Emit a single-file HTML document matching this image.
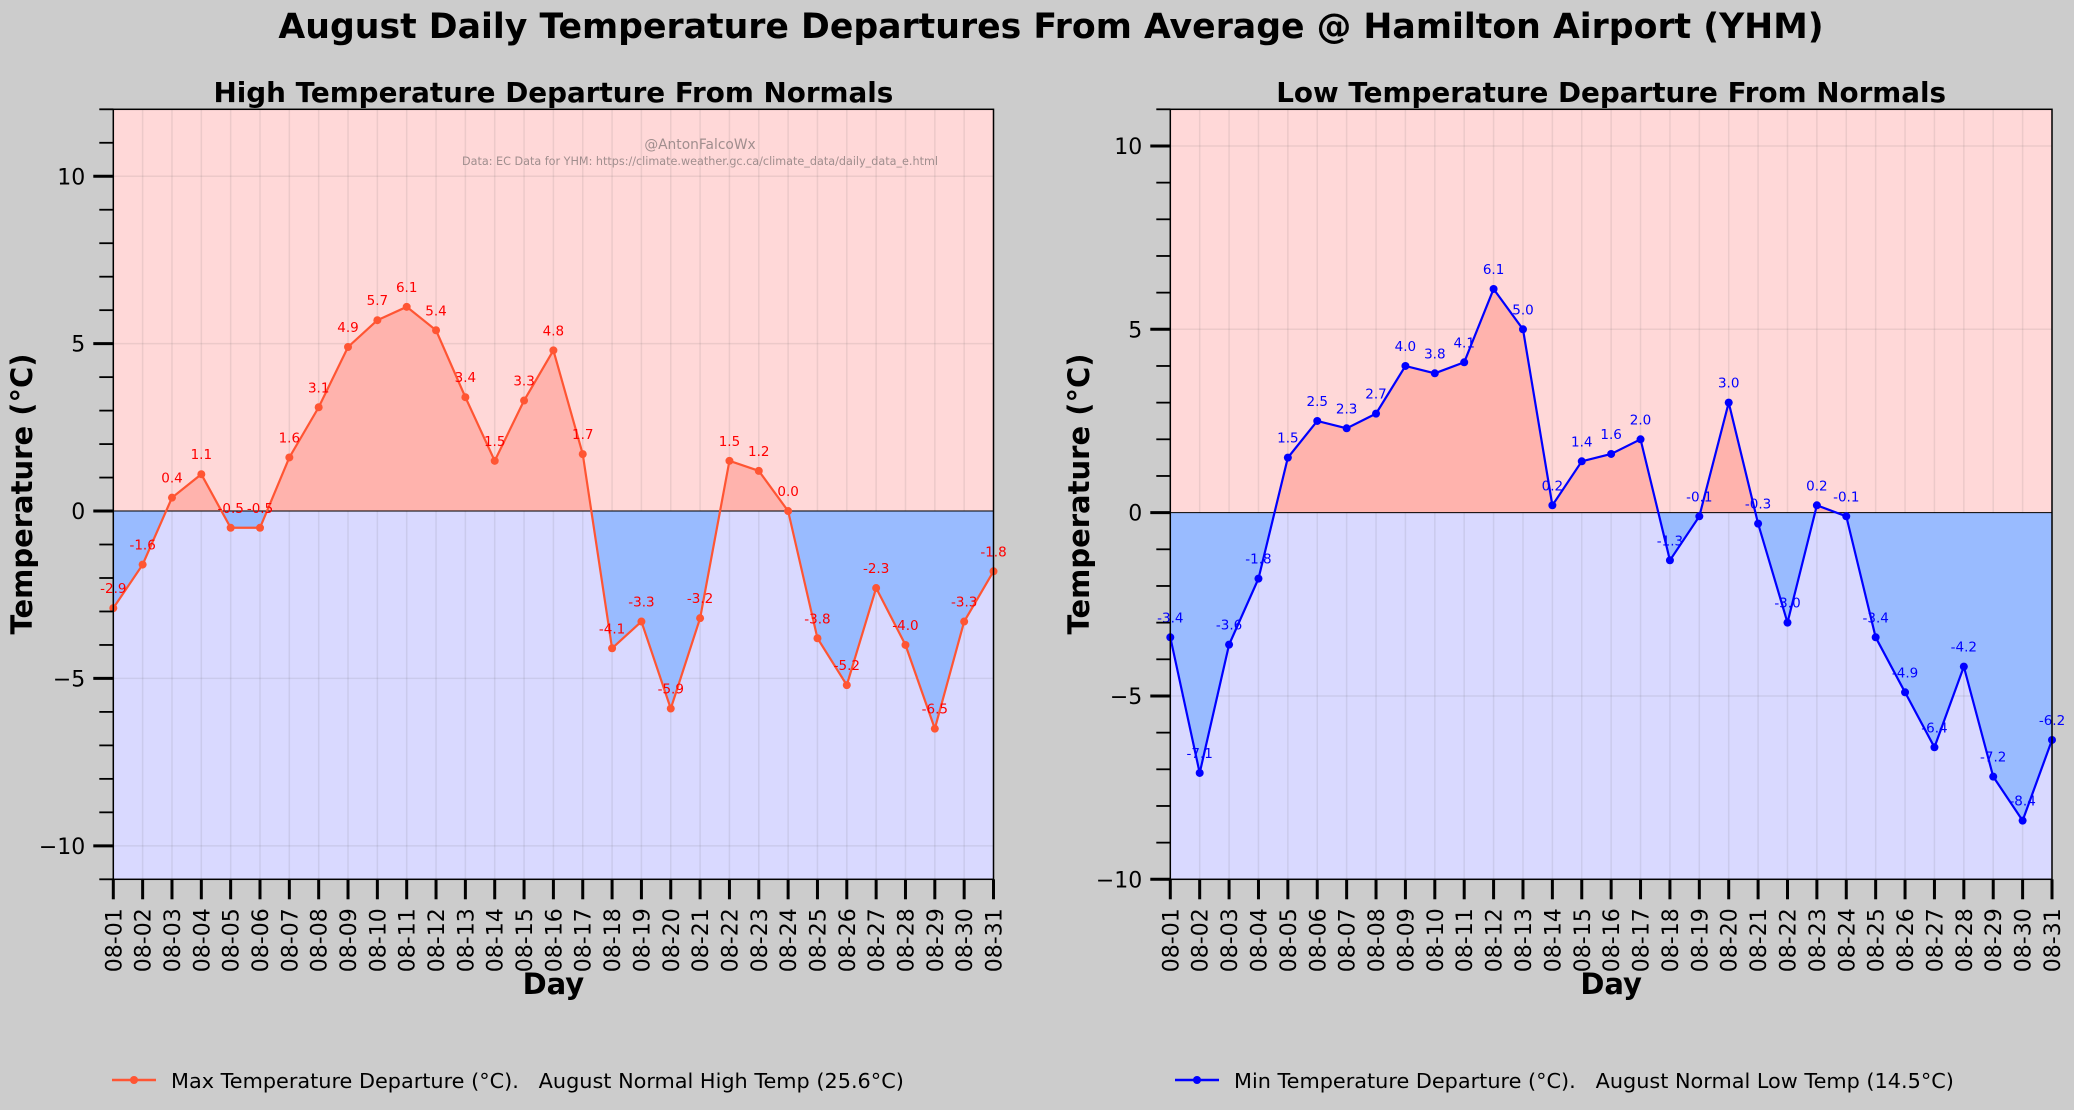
<!DOCTYPE html>
<html><head><meta charset="utf-8"><style>
html,body{margin:0;padding:0;background:#cccccc;}
svg{display:block;font-family:"DejaVu Sans","Liberation Sans",sans-serif;}
text{white-space:pre;}
</style></head><body>
<svg id="chart" width="2074" height="1110" viewBox="0 0 2074 1110" xmlns="http://www.w3.org/2000/svg">
<rect x="0" y="0" width="2074" height="1110" fill="#cccccc"/>
<text x="1051" y="38" text-anchor="middle" font-size="34.7" font-weight="bold">August Daily Temperature Departures From Average @ Hamilton Airport (YHM)</text>
<g id="left"></g>
<g id="right"></g>
</svg>
<script>
const days = ["08-01","08-02","08-03","08-04","08-05","08-06","08-07","08-08","08-09","08-10","08-11","08-12","08-13","08-14","08-15","08-16","08-17","08-18","08-19","08-20","08-21","08-22","08-23","08-24","08-25","08-26","08-27","08-28","08-29","08-30","08-31"];
const highDeparture = [-2.9,-1.6,0.4,1.1,-0.5,-0.5,1.6,3.1,4.9,5.7,6.1,5.4,3.4,1.5,3.3,4.8,1.7,-4.1,-3.3,-5.9,-3.2,1.5,1.2,0.0,-3.8,-5.2,-2.3,-4.0,-6.5,-3.3,-1.8];
const lowDeparture = [-3.4,-7.1,-3.6,-1.8,1.5,2.5,2.3,2.7,4.0,3.8,4.1,6.1,5.0,0.2,1.4,1.6,2.0,-1.3,-0.1,3.0,-0.3,-3.0,0.2,-0.1,-3.4,-4.9,-6.4,-4.2,-7.2,-8.4,-6.2];
const highTicks = [-10,-5,0,5,10];
const lowTicks = [-10,-5,0,5,10];

const NS="http://www.w3.org/2000/svg";
function mk(parent,tag,attrs,text){const e=document.createElementNS(NS,tag);for(const k in attrs)e.setAttribute(k,attrs[k]);if(text!==undefined)e.textContent=text;parent.appendChild(e);return e;}
function fmt(v){return (v<0?"\u2212":"")+Math.abs(v);}

function panel(gid,cfg){
  const g=document.getElementById(gid);
  const L=cfg.left,R=cfg.right,T=109.3,B=879.3;
  const x=i=>L+(R-L)*i/(days.length-1);
  const y=v=>T+(cfg.ymax-v)*(B-T)/(cfg.ymax-cfg.ymin);
  const y0=y(0);
  const cid=gid+"clip";
  const defs=mk(g,"defs",{});
  const c1=mk(defs,"clipPath",{id:cid+"a"});mk(c1,"rect",{x:L,y:T,width:R-L,height:y0-T});
  const c2=mk(defs,"clipPath",{id:cid+"b"});mk(c2,"rect",{x:L,y:y0,width:R-L,height:B-y0});
  const top=mk(g,"rect",{x:L,y:T,width:R-L,height:y0-T,fill:"#ffd8d8"});
  
  
  const bot=mk(g,"rect",{x:L,y:y0,width:R-L,height:B-y0,fill:"#d9d9ff"});
  
  
  for(let i=0;i<days.length;i++){mk(g,"line",{x1:x(i),x2:x(i),y1:T,y2:B,stroke:"rgba(100,100,100,0.12)","stroke-width":1.5});}
  cfg.ticks.forEach(t=>{mk(g,"line",{x1:L,x2:R,y1:y(t),y2:y(t),stroke:"rgba(100,100,100,0.12)","stroke-width":1.5});});
  const vals=cfg.data;
  let d="M"+x(0)+","+y0;vals.forEach((v,i)=>d+=" L"+x(i)+","+y(v));d+=" L"+x(vals.length-1)+","+y0+" Z";
  const fa=mk(g,"path",{d:d,fill:"#ffb3ad","clip-path":"url(#"+cid+"a)"});
  
  
  const fb=mk(g,"path",{d:d,fill:"#99bbff","clip-path":"url(#"+cid+"b)"});
  
  
  mk(g,"line",{x1:L,x2:R,y1:y0,y2:y0,stroke:"#000","stroke-width":1});
  if(cfg.wm){
    const w1=mk(g,"text",{x:700,y:149,"text-anchor":"middle","font-size":13.8,fill:"#a08e8e"},"@AntonFalcoWx");
    
    
    const w2=mk(g,"text",{x:700,y:165,"text-anchor":"middle","font-size":11.2,fill:"#a08e8e"},"Data: EC Data for YHM: https://climate.weather.gc.ca/climate_data/daily_data_e.html");
    
    
  }
  let p="";vals.forEach((v,i)=>p+=(i?" L":"M")+x(i)+","+y(v));
  const ln=mk(g,"path",{d:p,fill:"none",stroke:cfg.color,"stroke-width":2.2});
  
  
  vals.forEach((v,i)=>{
    const c=mk(g,"circle",{cx:x(i),cy:y(v),r:4,fill:cfg.color});
    
    
    const t=mk(g,"text",{x:x(i),y:y(v)-15,"text-anchor":"middle","font-size":13.5,fill:cfg.labelColor},v.toFixed(1));
    
    
  });
  mk(g,"rect",{x:L,y:T,width:R-L,height:B-T,fill:"none",stroke:"#000","stroke-width":1.5});
  for(let v=Math.ceil(cfg.ymin);v<=Math.floor(cfg.ymax);v++){
    const major=cfg.ticks.includes(v);
    mk(g,"line",{x1:L-(major?20:14),x2:L,y1:y(v),y2:y(v),stroke:"#000","stroke-width":major?3:1.8});
  }
  cfg.ticks.forEach(t=>{
    const tl=mk(g,"text",{x:L-28,y:y(t)+8,"text-anchor":"end","font-size":22},fmt(t));
    
    
  });
  days.forEach((dd,i)=>{
    mk(g,"line",{x1:x(i),x2:x(i),y1:B,y2:B+20,stroke:"#000","stroke-width":3});
    const tl=mk(g,"text",{x:0,y:0,"text-anchor":"end","font-size":22,transform:"translate("+(x(i)+8)+","+(B+29)+") rotate(-90)"},dd);
    
    
  });
  const tt=mk(g,"text",{x:(L+R)/2,y:102,"text-anchor":"middle","font-size":27.8,"font-weight":"bold"},cfg.title);
  
  
  const yl=mk(g,"text",{x:0,y:0,"text-anchor":"middle","font-size":29,"font-weight":"bold",transform:"translate("+(cfg.ylx)+",494) rotate(-90)"},"Temperature (°C)");
  
  
  const xl=mk(g,"text",{x:(L+R)/2,y:994,"text-anchor":"middle","font-size":29,"font-weight":"bold"},"Day");
  
  
  const lg=mk(g,"g",{});
  
  
  mk(lg,"line",{x1:cfg.legX,x2:cfg.legX+44,y1:1080,y2:1080,stroke:cfg.color,"stroke-width":2.5});
  mk(lg,"circle",{cx:cfg.legX+22,cy:1080,r:4,fill:cfg.color});
  mk(lg,"text",{x:cfg.legX+59,y:1088,"font-size":20.8},cfg.legend);
}
panel("left",{left:113.3,right:993.5,ymin:-11,ymax:12,ticks:highTicks,data:highDeparture,color:"#ff5533",labelColor:"#ff0000",title:"High Temperature Departure From Normals",ylx:32,wm:true,legX:112,legend:"Max Temperature Departure (°C).   August Normal High Temp (25.6°C)"});
panel("right",{left:1170.3,right:2052,ymin:-10,ymax:11,ticks:lowTicks,data:lowDeparture,color:"#0000ff",labelColor:"#0000ff",title:"Low Temperature Departure From Normals",ylx:1089,wm:false,legX:1175,legend:"Min Temperature Departure (°C).   August Normal Low Temp (14.5°C)"});
</script>
</body></html>
